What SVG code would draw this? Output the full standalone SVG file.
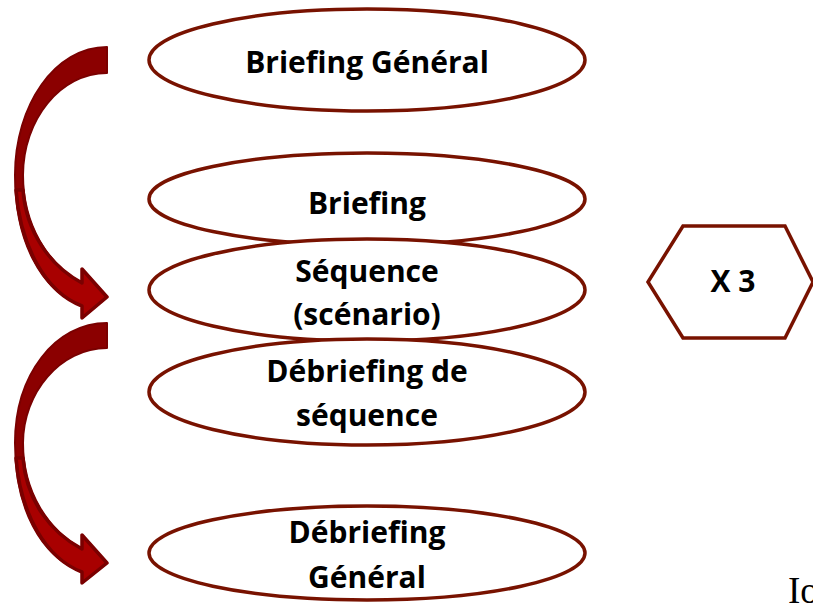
<svg xmlns="http://www.w3.org/2000/svg" width="813" height="606" viewBox="0 0 813 606">
<style>
.node ellipse{fill:#ffffff;stroke:#781200;stroke-width:3.5}
.node polygon{fill:#ffffff;stroke:#781200;stroke-width:3.5;stroke-linejoin:miter}
.lbl{font-family:"Open Sans","Liberation Sans",sans-serif;font-weight:bold;font-size:30px;fill:#000;text-anchor:middle}
.back{fill:#8B0000;stroke:#7A0000;stroke-width:2;stroke-linejoin:round}
.front{fill:#A80000;stroke:#7A0000;stroke-width:3.5;stroke-linejoin:round}
</style>
<rect width="813" height="606" fill="#ffffff"/>
<g id="connectors">
  <g id="arrow1">
    <path class="back" d="M107,47 L107,73 C60,73 23,120 23,175 C23,225 48,265 82,283 L82,269 L107,297 L82,318 L82,306 C40,290 15,240 15,175 C15,105 55,47 107,47 Z"/>
    <path class="front" d="M16,190 C20,245 45,292 82,306 L82,318 L107,297 L82,269 L82,283 C50,266 26,232 23,190 Z"/>
  </g>
  <g id="arrow2">
    <path class="back" d="M107,323 L107,348 C60,348 23,393 23,443 C23,492 48,530 82,549 L82,535 L107,563 L82,583 L82,572 C40,556 15,508 15,443 C15,375 55,323 107,323 Z"/>
    <path class="front" d="M16,458 C20,512 45,558 82,572 L82,583 L107,563 L82,535 L82,549 C50,532 26,500 23,458 Z"/>
  </g>
</g>
<g id="n-briefing-general" class="node">
  <ellipse cx="367" cy="60" rx="218" ry="51"/>
  <text class="lbl" x="367" y="73">Briefing Général</text>
</g>
<g id="n-briefing" class="node">
  <ellipse cx="367" cy="199" rx="218" ry="46"/>
  <text class="lbl" x="367" y="214">Briefing</text>
</g>
<g id="n-sequence" class="node">
  <ellipse cx="367" cy="290" rx="218" ry="51"/>
  <text class="lbl" x="367" y="282">Séquence</text>
  <text class="lbl" x="367" y="325">(scénario)</text>
</g>
<g id="n-debriefing-sequence" class="node">
  <ellipse cx="367" cy="392" rx="218" ry="53"/>
  <text class="lbl" x="367" y="382">Débriefing de</text>
  <text class="lbl" x="367" y="426">séquence</text>
</g>
<g id="n-debriefing-general" class="node">
  <ellipse cx="367" cy="553" rx="218" ry="47"/>
  <text class="lbl" x="367" y="543">Débriefing</text>
  <text class="lbl" x="367" y="588">Général</text>
</g>
<g id="n-x3" class="node">
  <polygon points="648,282 683,226 785,226 813,282 785,338 683,338"/>
  <text class="lbl" x="733" y="292">X 3</text>
</g>
<text x="788" y="603" font-family="Liberation Serif, serif" font-size="37" fill="#000">Io</text>
</svg>
